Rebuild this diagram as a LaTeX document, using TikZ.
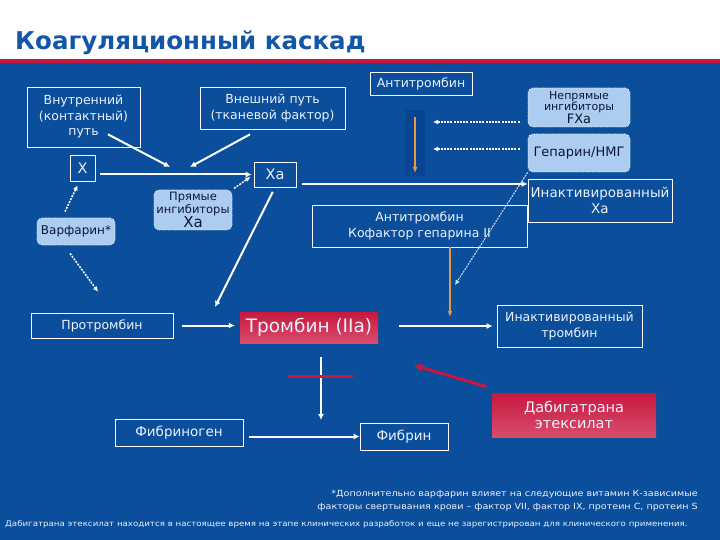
\documentclass[tikz,border=0pt]{standalone}
\usepackage{fontspec}
\setmainfont{DejaVu Sans}
\newfontfamily\condfont[FakeStretch=1.25]{DejaVu Sans Condensed}
\usetikzlibrary{arrows.meta,calc}

\definecolor{slideblue}{RGB}{10,78,156}
\definecolor{titleblue}{RGB}{18,86,170}
\definecolor{headred}{RGB}{200,24,62}
\definecolor{liteblue}{RGB}{172,204,240}
\definecolor{litetext}{RGB}{12,22,60}
\definecolor{boxtext}{RGB}{235,242,252}
\definecolor{thrred}{RGB}{205,32,72}
\definecolor{orangeline}{RGB}{232,150,72}
\definecolor{darkband}{RGB}{8,68,146}

\begin{document}
\begin{tikzpicture}[x=1pt, y=-1pt,
    box/.style={rectangle, draw=white, line width=0.7pt, text=boxtext,
                align=center, inner sep=1pt,
                font=\fontsize{12.5}{15.5}\selectfont},
    lite/.style={rectangle, rounded corners=5pt, fill=liteblue,
                 draw=white!70!liteblue, densely dotted, line width=0.8pt,
                 text=litetext, align=center, inner sep=1pt},
    redbox/.style={rectangle, top color=headred, bottom color=thrred!80!white,
                   text=boxtext, align=center, inner sep=1pt},
    arr/.style={-{Latex[length=6pt,width=6pt]}, line width=2pt, white},
    darr/.style={-{Latex[length=5pt,width=5pt]}, white,
                 dash pattern=on 2pt off 1.2pt, line width=1.5pt},
    tarr/.style={-{Latex[length=5pt,width=5pt]}, liteblue!60!white,
                 dash pattern=on 2pt off 1pt, line width=1pt},
    oarr/.style={-{Latex[length=6pt,width=5pt]}, orangeline, line width=2.2pt},
    rarr/.style={-{Latex[length=9pt,width=9pt]}, headred, line width=3pt},
    foot/.style={text=boxtext, inner sep=0pt, font=\condfont\fontsize{8.5}{9}\selectfont},
  ]

  % Background and header
  \useasboundingbox (0,0) rectangle (720,540);
  \fill[white] (0,0) rectangle (720,59);
  \fill[headred] (0,59) rectangle (720,63);
  \fill[slideblue] (0,63) rectangle (720,540);
  \node[anchor=base west, inner sep=0pt, text=titleblue,
        font=\bfseries\fontsize{24.5}{28}\selectfont] (title) at (15,50)
    {Коагуляционный каскад};

  % Upper nodes
  \node[box, minimum width=113, minimum height=60] (inner) at (83.5,117)
    {Внутренний\\(контактный)\\путь};
  \node[box, minimum width=145, minimum height=42] (ext) at (272.5,108)
    {Внешний путь\\(тканевой фактор)};
  \node[box, minimum width=102, minimum height=23] (at) at (421,83.5)
    {Антитромбин};
  \node[lite, minimum width=102, minimum height=39,
        font=\fontsize{11}{10.5}\selectfont] (indir) at (579,107.5)
    {Непрямые\\ингибиторы\\{\fontsize{13}{12}\selectfont FXa}};
  \node[lite, minimum width=102, minimum height=38,
        font=\fontsize{13}{15}\selectfont] (hep) at (579,153)
    {Гепарин/НМГ};

  % Factor X level
  \node[box, minimum width=25, minimum height=26,
        font=\fontsize{14.5}{16}\selectfont] (X) at (82.5,168) {X};
  \node[box, minimum width=42, minimum height=25,
        font=\fontsize{14.5}{16}\selectfont] (Xa) at (275,174.5) {Xa};
  \node[lite, minimum width=78, minimum height=40,
        font=\fontsize{11.5}{11}\selectfont] (dir) at (193,210)
    {Прямые\\ингибиторы\\{\fontsize{15}{13}\selectfont Xa}};
  \node[lite, minimum width=78, minimum height=27,
        font=\fontsize{12}{14}\selectfont] (warf) at (76,231.5) {Варфарин*};
  \node[box, minimum width=215, minimum height=42] (atc) at (419.5,226)
    {Антитромбин\\Кофактор гепарина II};
  \node[box, minimum width=144, minimum height=43,
        font=\fontsize{13.5}{16}\selectfont] (inXa) at (600,200.5)
    {Инактивированный\\Xa};

  % Thrombin level
  \node[box, minimum width=142, minimum height=25] (proth) at (102,325.5)
    {Протромбин};
  \node[redbox, minimum width=138, minimum height=31,
        font=\fontsize{18.5}{20}\selectfont] (thr) at (309,327.5)
    {Тромбин (IIa)};
  \node[box, minimum width=145, minimum height=42] (inthr) at (569.5,326)
    {Инактивированный\\тромбин};
  \node[box, minimum width=128, minimum height=27,
        font=\fontsize{13.5}{16}\selectfont] (fgen) at (179,432.5)
    {Фибриноген};
  \node[box, minimum width=88, minimum height=27,
        font=\fontsize{13.5}{16}\selectfont] (fib) at (404,436.5) {Фибрин};
  \node[redbox, minimum width=164, minimum height=44,
        font=\fontsize{14.5}{16}\selectfont] (dab) at (574,415)
    {Дабигатрана\\этексилат};

  % Free ends
  \coordinate (j1) at (170,167);
  \coordinate (j2) at (190,167);
  \coordinate (xaline) at (0,184);
  \coordinate (atend) at (415,173);
  \coordinate (d1) at (433,122);
  \coordinate (d2) at (433,149);
  \coordinate (hepend) at (455,285);
  \coordinate (xathr) at (215,307);
  \coordinate (atcend) at (450,317);
  \coordinate (thrdown) at (321,420);
  \coordinate (dabtgt) at (413,365);

  % Pathways to X
  \draw[arr] ($(inner.south)+(24.5,-13)$) -- (j1);
  \draw[arr] ($(ext.south)+(-22.5,5)$) -- (j2);
  \draw[arr, shorten <=5pt, shorten >=2pt] (X.east |- Xa) -- (Xa.west);
  \draw[arr, shorten <=6pt] (Xa.east |- xaline) -- (xaline -| inXa.west);

  % Antithrombin
  \fill[darkband] (405,110) rectangle (425,176);
  \draw[oarr, shorten <=22pt] (at.south -| atend) -- (atend);
  \draw[oarr] (atc.south -| atcend) -- (atcend);
  \draw[darr, shorten <=8pt] (d1 -| indir.west) -- (d1);
  \draw[darr, shorten <=8pt] (d2 -| hep.west) -- (d2);
  \draw[tarr] (hep.south west) -- (hepend);

  % Inhibitors
  \draw[darr, shorten <=2pt, shorten >=4pt] (dir.north east) -- (Xa.west);
  \draw[darr] ($(warf.north)+(-11,-6)$) -- ($(X.south)+(-5,4)$);
  \draw[darr] ($(warf.south)+(-6,8)$) -- ($(proth.north)+(-4,-21)$);

  % Thrombin
  \draw[arr, shorten <=5pt] (Xa.south) -- (xathr);
  \draw[arr, shorten <=9pt, shorten >=5pt] (proth.east) -- (proth.east -| thr.west);
  \draw[arr, line width=1.6pt, shorten <=21pt, shorten >=4pt] (thr.east |- inthr) -- (inthr.west);
  \draw[arr, line width=1.6pt, shorten <=14pt] (thr.south -| thrdown) -- (thrdown);
  \draw[headred, line width=3pt] (288,376) -- (353,376);
  \draw[arr, shorten <=6pt] (fgen.east |- fib) -- (fib.west);
  \draw[rarr] ($(dab.north west)+(-5,-6)$) -- (dabtgt);

  % Footnotes
  \node[foot, anchor=base east] (fn1) at (698,496)
    {*Дополнительно варфарин влияет на следующие витамин К-зависимые};
  \node[foot, anchor=base east] (fn2) at (698,509)
    {факторы свертывания крови – фактор VII, фактор IX, протеин C, протеин S};
  \node[foot, anchor=base west, font=\condfont\fontsize{7.7}{9}\selectfont] (fn3) at (5,526)
    {Дабигатрана этексилат находится в настоящее время на этапе клинических разработок  и еще не зарегистрирован для клинического применения.};

\end{tikzpicture}
\end{document}
